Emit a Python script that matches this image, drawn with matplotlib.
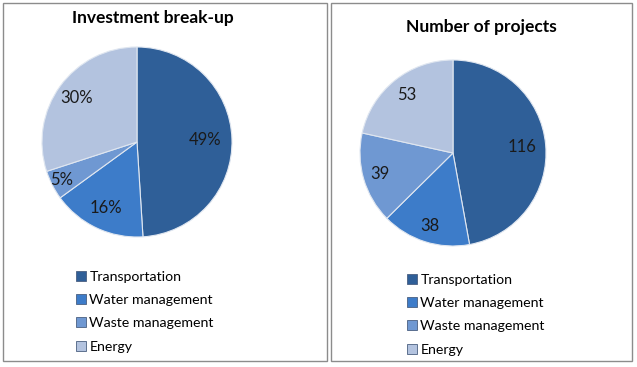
import numpy as np
import matplotlib.pyplot as plt
from matplotlib.patches import Rectangle, Patch

categories = ["Transportation", "Water management", "Waste management", "Energy"]
investment_pct = [49, 16, 5, 30]
project_counts = [116, 38, 39, 53]
colors = ["#2f5f98", "#3d7cc9", "#6f98d2", "#b3c3df"]

W, H = 637, 367
fig = plt.figure(figsize=(W / 100, H / 100), dpi=100)
plt.rcParams["font.family"] = ["Lato", "DejaVu Sans"]


def px_axes(cx, cy, r):
    # axes square around pie centre given in pixel coords (y from top)
    return fig.add_axes([(cx - r) / W, 1 - (cy + r) / H, 2 * r / W, 2 * r / H])


def draw_pie(ax, values, labels, dists):
    wedges, _ = ax.pie(values, startangle=90, counterclock=False, colors=colors,
                       radius=1.0, wedgeprops=dict(edgecolor="#dfe6f0", linewidth=0.8))
    for w, lab, d in zip(wedges, labels, dists):
        ang = np.deg2rad((w.theta1 + w.theta2) / 2)
        ax.text(d * np.cos(ang), d * np.sin(ang), lab, ha="center", va="center",
                fontsize=12, color="#1a1a1a")
    ax.set_xlim(-1, 1)
    ax.set_ylim(-1, 1)
    ax.set_aspect("equal")
    ax.axis("off")


# panel borders
for x0, x1 in [(3, 327), (331, 632)]:
    fig.patches.append(Rectangle((x0 / W, 1 - 361 / H), (x1 - x0) / W, 358 / H,
                                 transform=fig.transFigure, fill=False,
                                 edgecolor="#8c8c8c", linewidth=1))

ax1 = px_axes(137, 142, 95)
draw_pie(ax1, investment_pct, [f"{v}%" for v in investment_pct], [0.72, 0.77, 0.89, 0.78])
ax2 = px_axes(453, 153, 93)
draw_pie(ax2, project_counts, [str(v) for v in project_counts], [0.74, 0.82, 0.82, 0.8])

fig.text(153 / W, 1 - 18 / H, "Investment break-up", ha="center", va="center",
         fontsize=12.5, fontweight="bold")
fig.text(481 / W, 1 - 27 / H, "Number of projects", ha="center", va="center",
         fontsize=12.5, fontweight="bold")

handles = [Patch(facecolor=c, edgecolor="#4a5f80", linewidth=0.6) for c in colors]
for lx, ly in [(76, 271), (407, 274)]:
    fig.legend(handles, categories, loc="upper left",
               bbox_to_anchor=(lx / W, 1 - ly / H), frameon=False, fontsize=10.2,
               handlelength=0.7, handleheight=0.7, handletextpad=0.25,
               labelspacing=0.79, borderpad=0, borderaxespad=0)

fig.savefig("out.png", dpi=100)
